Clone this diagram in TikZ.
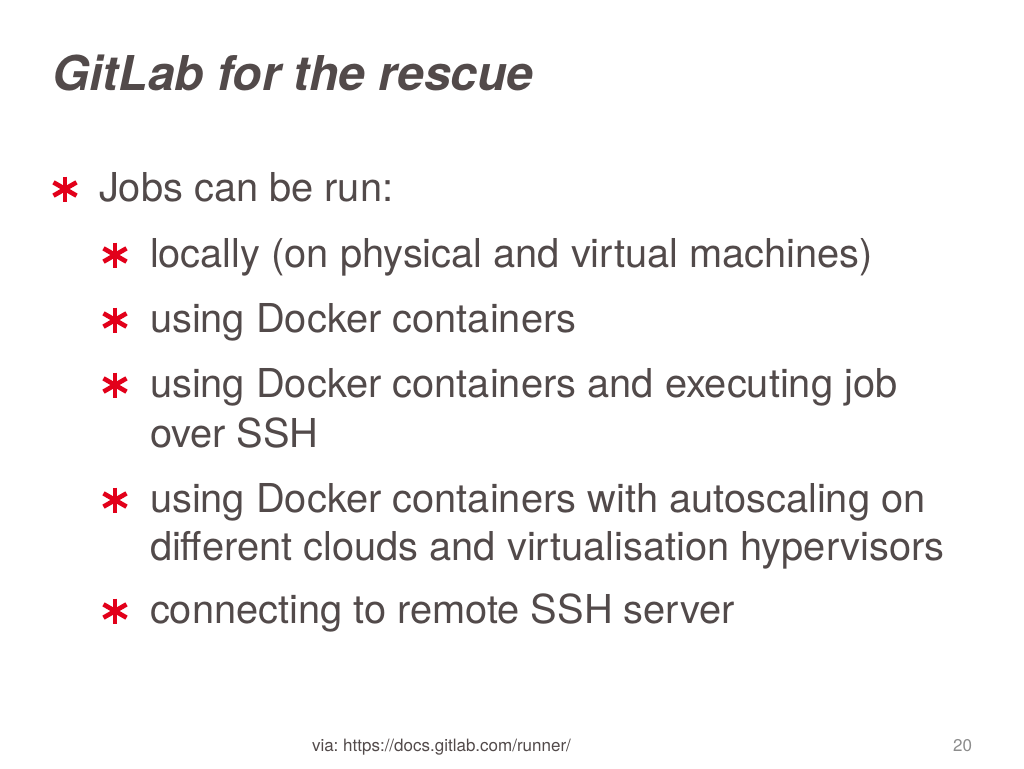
\documentclass[tikz,border=0pt]{standalone}
\usepackage{fontspec}
\setmainfont{TeX Gyre Heros}
\frenchspacing
\definecolor{txt}{RGB}{82,74,74}
\definecolor{astred}{RGB}{226,0,26}
\definecolor{pgnum}{RGB}{140,140,140}
\tikzset{
  body/.style={anchor=base west, inner sep=0pt, outer sep=0pt, text=txt, font=\fontsize{39.8}{47}\selectfont},
  titletext/.style={anchor=base west, inner sep=0pt, outer sep=0pt, text=txt, font=\fontsize{48}{56}\selectfont\bfseries\itshape},
  foot/.style={inner sep=0pt, outer sep=0pt, font=\fontsize{17}{20}\selectfont},
  asterisk/.pic={
    \draw[astred, line width=4.6pt] (0,-12.5) -- (0,12.5);
    \foreach \a in {30,-30} \draw[astred, line width=4.6pt] (\a:13.3) -- (\a+180:13.3);}
}
\begin{document}
\begin{tikzpicture}[x=1pt,y=-1pt]
\useasboundingbox[fill=white] (0,0) rectangle (1024,768);
\node[titletext] (title) at (52,90) {GitLab for the rescue};

\pic at (65,189) {asterisk};
\node[body] (jobs) at (99,201) {Jobs can be run:};

\pic at (115,255) {asterisk};
\node[body] (i1) at (150,267) {locally (on physical and virtual machines)};

\pic at (115,320) {asterisk};
\node[body] (i2) at (150,332) {using Docker containers};

\pic at (115,385) {asterisk};
\node[body] (i3a) at (150,397) {using Docker containers and executing job};
\node[body] (i3b) at (150,447) {over SSH};

\pic at (115,500) {asterisk};
\node[body] (i4a) at (150,512) {using Docker containers with autoscaling on};
\node[body] (i4b) at (150,560) {different clouds and virtualisation hypervisors};

\pic at (115,611) {asterisk};
\node[body] (i5) at (150,623) {connecting to remote SSH server};

\node[foot, anchor=base west, text=txt] (via) at (312,751) {via: https://docs.gitlab.com/runner/};
\node[foot, anchor=base east, text=pgnum] (page) at (972,751) {20};
\end{tikzpicture}
\end{document}
